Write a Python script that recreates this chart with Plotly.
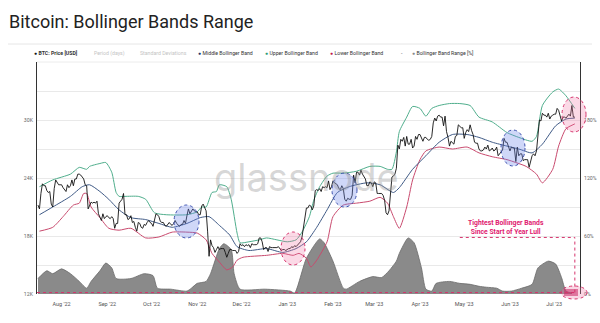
import plotly.graph_objects as go
import pandas as pd

# ---------------- data ----------------
price_start = "2022-07-16"
price_k = (
    # Jul 16-31 2022
    [21.2, 20.8, 22.4, 23.4, 23.2, 23.2, 22.7, 22.5, 22.6, 21.3, 21.0, 22.9, 23.8, 23.6, 23.3, 23.3]
    # Aug
    + [23.3, 23.0, 22.8, 22.6, 23.3, 23.0, 23.2, 23.8, 23.2, 23.9, 23.9, 24.4, 24.4, 24.3, 24.1, 23.9,
       23.3, 23.2, 20.8, 21.2, 21.5, 21.4, 21.5, 21.4, 21.6, 20.3, 20.0, 19.6, 20.3, 19.8, 20.0]
    # Sep
    + [20.1, 19.9, 19.8, 20.0, 19.8, 18.8, 19.3, 19.3, 21.4, 21.6, 21.8, 22.4, 20.2, 20.2, 19.7, 19.8,
       20.1, 19.4, 19.5, 18.9, 18.5, 19.4, 19.3, 18.9, 18.8, 19.2, 19.1, 19.4, 19.6, 19.4]
    # Oct
    + [19.3, 19.0, 19.6, 20.3, 20.2, 20.0, 19.5, 19.4, 19.4, 19.1, 19.0, 19.2, 19.4, 19.2, 19.1, 19.3,
       19.6, 19.3, 19.1, 19.0, 19.2, 19.2, 19.6, 19.3, 20.1, 20.8, 20.3, 20.6, 20.8, 20.6, 20.5]
    # Nov
    + [20.5, 20.2, 20.2, 21.1, 21.3, 20.9, 20.6, 18.5, 15.9, 17.6, 17.0, 16.8, 16.3, 16.6, 16.9, 16.6,
       16.7, 16.7, 16.7, 16.3, 15.8, 16.2, 16.6, 16.6, 16.5, 16.5, 16.5, 16.2, 16.4, 17.2]
    # Dec
    + [17.0, 17.1, 16.9, 17.1, 17.0, 17.1, 16.8, 17.2, 17.1, 17.1, 17.1, 17.2, 17.8, 17.8, 17.4, 16.6,
       16.8, 16.8, 16.4, 16.9, 16.8, 16.8, 16.8, 16.8, 16.8, 16.9, 16.7, 16.5, 16.6, 16.6, 16.5]
    # Jan 2023
    + [16.6, 16.7, 16.7, 16.9, 16.8, 17.0, 16.9, 17.1, 17.2, 17.4, 17.9, 18.8, 19.9, 20.9, 20.9, 21.2,
       21.1, 20.7, 21.1, 22.7, 22.8, 22.7, 22.9, 22.6, 23.1, 23.0, 23.1, 23.0, 23.7, 22.8, 23.1]
    # Feb
    + [23.7, 23.5, 23.4, 23.3, 22.9, 22.8, 23.2, 22.9, 21.8, 21.6, 21.9, 21.8, 21.8, 22.2, 24.3, 23.5,
       24.6, 24.6, 24.3, 24.8, 24.4, 24.2, 23.9, 23.2, 23.2, 23.6, 23.5, 23.1]
    # Mar
    + [23.6, 23.5, 22.4, 22.4, 22.4, 22.4, 22.2, 21.7, 20.4, 20.2, 20.6, 22.2, 24.1, 24.2, 24.4, 25.0,
       27.4, 27.0, 28.0, 27.8, 28.2, 27.3, 28.3, 27.5, 27.5, 28.0, 27.1, 27.3, 28.3, 28.0, 28.5]
    # Apr
    + [28.5, 28.2, 27.8, 28.2, 28.2, 28.0, 27.9, 28.0, 28.3, 29.7, 30.2, 29.9, 30.4, 30.5, 30.3, 30.3,
       29.4, 30.4, 28.8, 28.2, 27.3, 27.8, 27.6, 27.5, 28.3, 28.4, 29.5, 29.3, 29.2, 29.2]
    # May
    + [28.1, 28.7, 29.0, 28.8, 29.5, 28.9, 28.5, 27.7, 27.6, 27.6, 27.0, 26.8, 26.8, 26.9, 27.2, 27.0,
       27.4, 26.8, 26.9, 27.1, 26.8, 26.9, 27.2, 26.3, 26.5, 26.7, 26.9, 28.1, 27.7, 27.7, 27.2]
    # Jun
    + [26.8, 27.2, 27.1, 27.1, 25.7, 27.2, 26.3, 26.5, 26.5, 25.8, 25.9, 25.9, 25.9, 25.1, 25.6, 26.3,
       26.5, 26.3, 26.8, 28.3, 30.0, 29.9, 30.7, 30.5, 30.5, 30.3, 30.7, 30.1, 30.4, 30.5]
    # Jul 1-15
    + [30.6, 30.6, 31.2, 31.0, 30.4, 29.9, 30.3, 30.3, 30.2, 30.4, 30.6, 30.4, 31.5, 30.3, 30.3]
)
price_dates = pd.date_range(price_start, periods=len(price_k), freq="D")

upper_dates = ["2022-07-17", "2022-07-26", "2022-08-07", "2022-08-13", "2022-08-18", "2022-08-20",
               "2022-08-27", "2022-08-31", "2022-09-04", "2022-09-07", "2022-09-09", "2022-09-13",
               "2022-09-22", "2022-09-27", "2022-10-03", "2022-10-11", "2022-10-25", "2022-11-01",
               "2022-11-04", "2022-11-07", "2022-11-11", "2022-11-14", "2022-11-16", "2022-11-21",
               "2022-11-24", "2022-11-28", "2022-11-30", "2022-12-06", "2022-12-13", "2022-12-18",
               "2022-12-25", "2023-01-01", "2023-01-07", "2023-01-11", "2023-01-16", "2023-01-19",
               "2023-01-23", "2023-01-28", "2023-02-01", "2023-02-08", "2023-02-17", "2023-02-26",
               "2023-03-05", "2023-03-10", "2023-03-13", "2023-03-16", "2023-03-18", "2023-03-23",
               "2023-03-27", "2023-04-01", "2023-04-05", "2023-04-09", "2023-04-14", "2023-04-21",
               "2023-04-28", "2023-05-05", "2023-05-11", "2023-05-20", "2023-05-30", "2023-06-07",
               "2023-06-16", "2023-06-19", "2023-06-23", "2023-06-30", "2023-07-04", "2023-07-09",
               "2023-07-15"]
upper_k = [23.1, 23.8, 24.4, 25.1, 24.9, 25.2,
           25.5, 25.6, 24.6, 22.5, 22.1, 22.1,
           22.1, 21.8, 20.4, 20.2, 20.2, 20.5,
           21.0, 21.0, 22.5, 22.6, 23.3, 23.1,
           21.8, 18.3, 17.3, 17.4, 17.6, 17.8,
           17.6, 17.4, 17.6, 18.4, 20.0, 21.7,
           23.1, 24.2, 24.5, 24.5, 24.7, 25.2,
           25.2, 24.9, 24.9, 26.7, 28.8, 30.3,
           31.4, 31.2, 30.4, 31.2, 31.5, 31.7,
           31.7, 31.5, 30.3, 29.8, 28.7, 28.2,
           27.8, 28.3, 31.5, 32.9, 33.2, 32.5,
           31.2]

middle_dates = ["2022-07-17", "2022-07-26", "2022-08-07", "2022-08-15", "2022-08-20", "2022-08-27",
                "2022-09-02", "2022-09-09", "2022-09-17", "2022-09-27", "2022-10-06", "2022-10-15",
                "2022-10-25", "2022-11-03", "2022-11-09", "2022-11-16", "2022-11-23", "2022-11-28",
                "2022-12-06", "2022-12-18", "2022-12-29", "2023-01-07", "2023-01-14", "2023-01-21",
                "2023-01-28", "2023-02-04", "2023-02-12", "2023-02-24", "2023-03-05", "2023-03-14",
                "2023-03-18", "2023-03-27", "2023-04-05", "2023-04-14", "2023-04-23", "2023-05-03",
                "2023-05-11", "2023-05-20", "2023-05-30", "2023-06-07", "2023-06-16", "2023-06-23",
                "2023-07-02", "2023-07-09", "2023-07-15"]
middle_k = [20.2, 21.0, 22.1, 23.1, 23.3, 22.6,
            21.8, 20.7, 19.9, 19.7, 19.3, 18.9,
            19.3, 19.9, 20.0, 19.1, 18.1, 16.9,
            16.5, 16.7, 16.3, 16.7, 17.4, 18.9,
            20.7, 22.5, 23.1, 23.5, 23.3, 22.5,
            23.0, 24.9, 26.3, 27.7, 28.5, 28.5,
            28.2, 27.7, 27.3, 27.0, 26.6, 27.5,
            29.4, 30.1, 30.2]

lower_dates = ["2022-07-17", "2022-07-26", "2022-08-02", "2022-08-09", "2022-08-13", "2022-08-16",
               "2022-08-18", "2022-08-21", "2022-08-27", "2022-09-02", "2022-09-09", "2022-09-17",
               "2022-09-27", "2022-10-06", "2022-10-15", "2022-10-25", "2022-11-01", "2022-11-07",
               "2022-11-11", "2022-11-16", "2022-11-21", "2022-11-25", "2022-11-28", "2022-12-02",
               "2022-12-18", "2022-12-29", "2023-01-05", "2023-01-09", "2023-01-14", "2023-01-17",
               "2023-01-21", "2023-01-28", "2023-02-01", "2023-02-08", "2023-02-17", "2023-02-26",
               "2023-03-05", "2023-03-10", "2023-03-14", "2023-03-18", "2023-03-23", "2023-03-27",
               "2023-04-01", "2023-04-05", "2023-04-14", "2023-04-23", "2023-05-03", "2023-05-11",
               "2023-05-20", "2023-05-30", "2023-06-05", "2023-06-12", "2023-06-19", "2023-06-23",
               "2023-06-30", "2023-07-04", "2023-07-09", "2023-07-15"]
lower_k = [18.5, 18.9, 20.0, 21.2, 21.4, 22.4,
           22.4, 21.0, 19.9, 18.8, 18.6, 18.8,
           17.8, 17.9, 18.4, 18.4, 18.3, 17.6,
           16.2, 15.3, 14.5, 14.8, 15.5, 15.8,
           16.0, 16.2, 16.0, 16.2, 15.7, 14.8,
           15.5, 17.4, 20.0, 21.2, 21.4, 21.6,
           22.0, 21.4, 20.0, 18.8, 21.0, 23.8,
           25.9, 26.8, 27.2, 27.0, 27.2, 26.6,
           26.2, 25.9, 25.6, 25.2, 24.4, 23.5,
           24.9, 27.3, 29.1, 29.6]

range_dates = ["2022-07-16", "2022-07-22", "2022-07-26", "2022-08-01", "2022-08-07", "2022-08-13",
               "2022-08-18", "2022-08-21", "2022-08-27", "2022-08-31", "2022-09-04", "2022-09-07",
               "2022-09-17", "2022-09-26", "2022-10-02", "2022-10-05", "2022-10-14", "2022-10-25",
               "2022-10-28", "2022-11-01", "2022-11-07", "2022-11-10", "2022-11-16", "2022-11-19",
               "2022-11-24", "2022-11-26", "2022-11-30", "2022-12-17", "2023-01-03", "2023-01-06",
               "2023-01-14", "2023-01-23", "2023-01-26", "2023-02-01", "2023-02-08", "2023-02-10",
               "2023-02-19", "2023-02-28", "2023-03-06", "2023-03-11", "2023-03-16", "2023-03-18",
               "2023-03-24", "2023-03-28", "2023-04-02", "2023-04-05", "2023-04-09", "2023-04-12",
               "2023-04-21", "2023-04-28", "2023-05-05", "2023-05-11", "2023-05-16", "2023-05-23",
               "2023-05-27", "2023-06-02", "2023-06-09", "2023-06-16", "2023-06-20", "2023-06-27",
               "2023-07-02", "2023-07-06", "2023-07-09", "2023-07-13"]
range_pct = [16, 24, 21, 26, 21, 13,
             6, 13, 24, 32, 27, 16,
             16, 21, 19, 6, 5, 3,
             6, 11, 13, 21, 47, 52,
             46, 21, 5, 5, 3, 1,
             37, 57, 53, 34, 6, 5,
             13, 18, 17, 24, 34, 42,
             58, 53, 27, 5, 3, 11,
             13, 11, 10, 8, 7, 6,
             3, 3, 6, 10, 27, 34,
             31, 17, 3, 1]

month_ticks = pd.date_range("2022-08-01", "2023-07-01", freq="MS")
price_tickvals = [12000, 18000, 24000, 30000]
price_ticktext = ["12K", "18K", "24K", "30K"]
pct_tickvals = [0, 60, 120, 180]
pct_ticktext = ["0%", "60%", "120%", "180%"]

# ---------------- styling ----------------
C_PRICE = "#111111"
C_MID = "#3f5a86"
C_UP = "#4fae8c"
C_LOW = "#c94a6e"
C_RANGE = "#8a8a8a"
C_PINK = "#e0206f"
FONT = "Roboto"

W, H = 600, 323
L, R, T, B = 37, 580, 62, 294


def xp(x):
    return (x - L) / (R - L)


def yp(y):
    return (B - y) / (B - T)


fig = go.Figure()

fig.add_trace(go.Scatter(
    x=pd.to_datetime(range_dates), y=range_pct, yaxis="y", mode="lines",
    line=dict(color="#6a6a6a", width=0.8, shape="spline", smoothing=0.6),
    fill="tozeroy", fillcolor=C_RANGE, name="Bollinger Band Range [%]", hoverinfo="skip"))

fig.add_trace(go.Scatter(
    x=pd.to_datetime(lower_dates), y=[v * 1000 for v in lower_k], yaxis="y2", mode="lines",
    line=dict(color=C_LOW, width=1, shape="spline", smoothing=0.6), name="Lower Bollinger Band"))
fig.add_trace(go.Scatter(
    x=pd.to_datetime(upper_dates), y=[v * 1000 for v in upper_k], yaxis="y2", mode="lines",
    line=dict(color=C_UP, width=1, shape="spline", smoothing=0.6), name="Upper Bollinger Band"))
fig.add_trace(go.Scatter(
    x=pd.to_datetime(middle_dates), y=[v * 1000 for v in middle_k], yaxis="y2", mode="lines",
    line=dict(color=C_MID, width=1, shape="spline", smoothing=0.6), name="Middle Bollinger Band"))
fig.add_trace(go.Scatter(
    x=price_dates, y=[v * 1000 for v in price_k], yaxis="y2", mode="lines",
    line=dict(color=C_PRICE, width=0.9), name="BTC: Price [USD]"))

shapes = []
# legend box top rule and plot top rule
shapes.append(dict(type="line", xref="paper", yref="paper", x0=xp(8), x1=xp(592), y0=yp(44), y1=yp(44),
                   line=dict(color="#e6e6e6", width=1)))
shapes.append(dict(type="line", xref="paper", yref="paper", x0=0, x1=1, y0=1, y1=1,
                   line=dict(color="#ececec", width=1)))


def ellipse(x0, x1, y0, y1, fill, border):
    return dict(type="circle", xref="paper", yref="paper", x0=xp(x0), x1=xp(x1), y0=yp(y1), y1=yp(y0),
                fillcolor=fill, line=dict(color=border, width=1, dash="dot"), layer="above")


BLUE_F, BLUE_L = "rgba(110,135,235,0.33)", "#3b4fae"
PINK_F, PINK_L = "rgba(240,120,165,0.28)", "#d6336c"
shapes.append(ellipse(174, 199, 205, 238, BLUE_F, BLUE_L))
shapes.append(ellipse(332, 357, 173, 207, BLUE_F, BLUE_L))
shapes.append(ellipse(501, 525, 130, 166, BLUE_F, BLUE_L))
shapes.append(ellipse(281, 305, 232, 265, PINK_F, PINK_L))
shapes.append(ellipse(562, 586, 97, 132, PINK_F, PINK_L))
shapes.append(ellipse(561, 587, 286, 299, "rgba(240,120,165,0.3)", PINK_L))
shapes.append(dict(type="rect", xref="paper", yref="paper", x0=xp(564), x1=xp(578), y0=yp(296), y1=yp(289),
                   fillcolor="rgba(200,40,100,0.55)", line=dict(width=0), layer="above"))

# "tightest" reference lines (dotted pink)
end_day = "2023-07-15"
shapes.append(dict(type="line", xref="x", yref="y", x0="2022-07-15 08:00", x1=end_day, y0=1.5, y1=1.5,
                   line=dict(color=PINK_L, width=1, dash="dot"), layer="above"))
shapes.append(dict(type="line", xref="x", yref="y", x0=end_day, x1=end_day, y0=1.5, y1=58.5,
                   line=dict(color=PINK_L, width=1, dash="dot"), layer="above"))
shapes.append(dict(type="line", xref="x", yref="y", x0="2023-04-28", x1=end_day, y0=58.5, y1=58.5,
                   line=dict(color=PINK_L, width=1, dash="dot"), layer="above"))

annotations = []
# title
annotations.append(dict(xref="paper", yref="paper", x=xp(7), y=yp(21), xanchor="left", yanchor="middle",
                        text="Bitcoin: Bollinger Bands Range", showarrow=False,
                        font=dict(family=FONT, size=18, color="#222222")))
# legend row
LEG_Y = yp(53)
legend_items = [
    (32, "<span style='color:#111111'>●</span> <b>BTC: Price [USD]</b>", "#333333"),
    (92, "Period (days)", "#c4c4c4"),
    (138, "Standard Deviations", "#c4c4c4"),
    (196, "<span style='color:#1d3566'>●</span> Middle Bollinger Band", "#333333"),
    (263, "<span style='color:#2e9a72'>●</span> Upper Bollinger Band", "#333333"),
    (328, "<span style='color:#c0174a'>●</span> Lower Bollinger Band", "#333333"),
    (399, "-", "#555555"),
    (410, "<span style='color:#888888'>●</span> Bollinger Band Range [%]", "#333333"),
]
for lx, txt, col in legend_items:
    annotations.append(dict(xref="paper", yref="paper", x=xp(lx), y=LEG_Y, xanchor="left", yanchor="middle",
                            text=txt, showarrow=False, font=dict(family=FONT, size=5.2, color=col)))
# watermark
annotations.append(dict(xref="paper", yref="paper", x=xp(306), y=yp(177), xanchor="center", yanchor="middle",
                        text="glassnode", showarrow=False,
                        font=dict(family="Inter", size=38, color="rgba(150,150,150,0.38)")))
# callout text
annotations.append(dict(xref="paper", yref="paper", x=xp(506), y=yp(228), xanchor="center", yanchor="middle",
                        text="<b>Tightest Bollinger Bands<br>Since Start of Year Lull</b>", showarrow=False,
                        font=dict(family=FONT, size=6.8, color=C_PINK)))

fig.update_layout(
    width=W, height=H,
    margin=dict(l=L, r=W - R, t=T, b=H - B, autoexpand=False),
    paper_bgcolor="white", plot_bgcolor="white",
    showlegend=False,
    font=dict(family=FONT, size=5.5, color="#555555"),
    xaxis=dict(type="date", range=["2022-07-15 08:00", "2023-07-18 12:00"], automargin=False,
               tickvals=month_ticks, tickformat="%b '%y", showgrid=False, zeroline=False,
               showline=False, ticks="outside", ticklen=4, tickcolor="rgba(0,0,0,0)",
               tickfont=dict(size=5.5, color="#555555")),
    yaxis=dict(side="right", range=[0, 240], tickvals=pct_tickvals, ticktext=pct_ticktext,
               automargin=False,
               showgrid=False, zeroline=False, showline=True, linecolor="#333333", linewidth=1,
               tickfont=dict(size=5.2, color="#666666"), ticks="outside", ticklen=2,
               tickcolor="rgba(0,0,0,0)"),
    yaxis2=dict(side="left", overlaying="y", range=[12000, 36000], tickvals=price_tickvals,
                ticktext=price_ticktext, showgrid=True, gridcolor="#e9e9e9", gridwidth=1,
                automargin=False,
                minor=dict(tick0=12000, dtick=3000, showgrid=True, gridcolor="#e9e9e9", gridwidth=1),
                zeroline=False, showline=True, linecolor="#333333", linewidth=1,
                tickfont=dict(size=5.2, color="#666666"), ticks="outside", ticklen=2,
                tickcolor="rgba(0,0,0,0)"),
    shapes=shapes,
    annotations=annotations,
)

fig.write_html("out.html")
